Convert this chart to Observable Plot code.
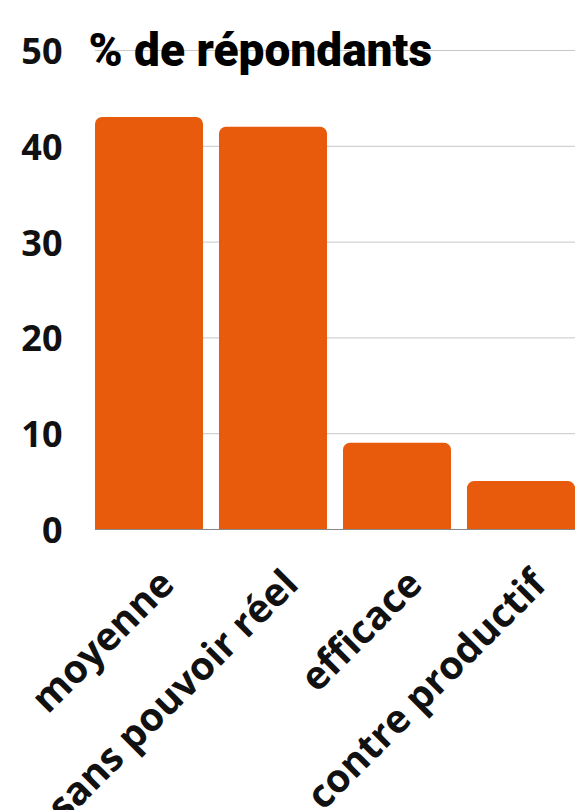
<!DOCTYPE html>
<html>
<head>
<meta charset="utf-8">
<script src="https://cdn.jsdelivr.net/npm/d3@7"></script>
<script src="https://cdn.jsdelivr.net/npm/@observablehq/plot@0.6"></script>
<style>
  html, body { margin: 0; padding: 0; background: #fff; }
  #chart svg { display: block; }
</style>
</head>
<body>
<div id="chart"></div>
<script>
const categories = ["moyenne", "sans pouvoir réel", "efficace", "contre productif"];
const values = [43, 42, 9, 5];
const yTicks = [0, 10, 20, 30, 40, 50];
const title = "% de répondants";

const data = categories.map((c, i) => ({category: c, value: values[i]}));

const chart = Plot.plot({
  width: 575,
  height: 810,
  marginTop: 50,
  marginBottom: 281,
  marginLeft: 95,
  marginRight: 0,
  style: {fontFamily: "'Open Sans', sans-serif", background: "#fff"},
  x: {domain: categories, paddingInner: 0.13, paddingOuter: 0, axis: null},
  y: {domain: [0, 50], ticks: yTicks, axis: null},
  marks: [
    Plot.gridY(yTicks, {stroke: "#c8c8c8", strokeOpacity: 1, strokeWidth: 1}),
    Plot.barY(data, {x: "category", y: "value", fill: "#E95B0C", rx: 7, insetBottom: -12, clip: "frame"}),
    Plot.ruleY([0], {stroke: "#888", strokeWidth: 1}),
    Plot.axisY(yTicks, {label: null, tickSize: 0, tickPadding: 33, fontSize: 36, fontWeight: 700, fill: "#111", letterSpacing: 1, tickFormat: d => d, textAnchor: "end", dy: 2}),
    Plot.text(data, {x: "category", text: "category", frameAnchor: "bottom", rotate: -45, textAnchor: "end", lineAnchor: "middle", dx: 18, dy: 48, fontSize: 39, fontWeight: 700, fill: "#111"}),
    Plot.text([title], {frameAnchor: "top-left", text: d => d, dx: -7, dy: 1, lineAnchor: "middle", fontSize: 46, fontWeight: 900, fontFamily: "Roboto, sans-serif", fill: "#000", letterSpacing: -1.5, textAnchor: "start"})
  ]
});
document.getElementById("chart").appendChild(chart);
</script>
</body>
</html>
